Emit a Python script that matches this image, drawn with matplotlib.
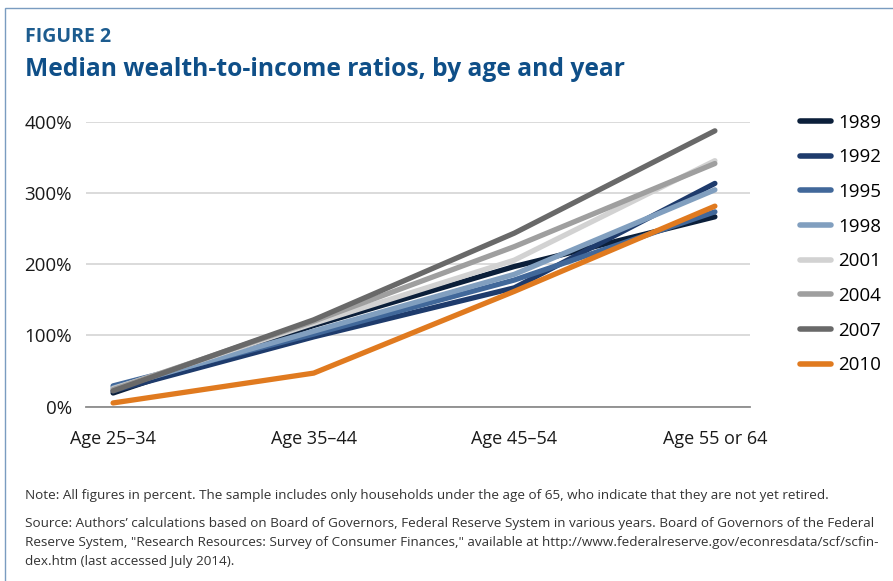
import matplotlib
matplotlib.use("Agg")
import matplotlib.pyplot as plt
from matplotlib.patches import Rectangle

categories = ["Age 25\u201334", "Age 35\u201344", "Age 45\u201354", "Age 55 or 64"]
years = ["1989", "1992", "1995", "1998", "2001", "2004", "2007", "2010"]
v1989 = [19, 114, 197, 267]
v1992 = [22, 98, 167, 314]
v1995 = [29, 102, 178, 274]
v1998 = [26, 106, 186, 305]
v2001 = [25, 117, 206, 346]
v2004 = [24, 120, 225, 342]
v2007 = [22, 122, 244, 388]
v2010 = [5, 47, 162, 282]
series = [v1989, v1992, v1995, v1998, v2001, v2004, v2007, v2010]
colors = ["#0b1f3a", "#1e3b6c", "#41689a", "#819fbf", "#d2d2d2", "#9f9f9f", "#696969", "#e07a1f"]
yticks = [0, 100, 200, 300, 400]
ytick_labels = ["0%", "100%", "200%", "300%", "400%"]

plt.rcParams['font.family'] = ['Open Sans', 'DejaVu Sans']

W, H = 893, 581
fig = plt.figure(figsize=(W / 100, H / 100), dpi=100)

fig.patches.append(Rectangle((5 / W, -0.1), 1.2, 1 - 8 / H + 0.1, transform=fig.transFigure,
                             fill=False, edgecolor="#7a9cc0", linewidth=1.0))

fig.text(25 / W, 1 - 37 / H, "FIGURE 2", color="#1d5c8f", fontsize=14, fontweight="bold",
         va="center", ha="left")
fig.text(25 / W, 1 - 70 / H, "Median wealth-to-income ratios, by age and year", color="#0f4f88",
         fontsize=17.7, fontweight="bold", va="center", ha="left")

ax = fig.add_axes([86 / W, 1 - 406.5 / H, (750 - 86) / W, (406.5 - 122.3) / H])
x = list(range(len(categories)))
handles = []
for yr, vals, c in zip(years, series, colors):
    ln, = ax.plot(x, vals, color=c, linewidth=3.8, solid_capstyle="round",
                  solid_joinstyle="round", clip_on=False, zorder=3)
    handles.append(ln)

ax.set_xlim(-0.135, 3.175)
ax.set_ylim(0, 400)
ax.set_yticks(yticks)
ax.set_yticklabels(ytick_labels)
ax.set_xticks(x)
ax.set_xticklabels(categories)
for s in ["top", "right", "left"]:
    ax.spines[s].set_visible(False)
ax.spines["bottom"].set_color("#8c8c8c")
ax.spines["bottom"].set_linewidth(1.3)
ax.grid(axis="y", color="#d4d4d4", linewidth=1.2, zorder=0)
ax.set_axisbelow(True)
ax.tick_params(axis="both", length=0, colors="#1a1a1a")
ax.tick_params(axis="y", pad=10, labelsize=13.5)
ax.tick_params(axis="x", pad=17, labelsize=13)

leg = fig.legend(handles, years, loc="upper left", bbox_to_anchor=(792 / W, 1 - 106 / H),
                 frameon=False, fontsize=13.5, handlelength=1.7, labelspacing=0.89,
                 handletextpad=0.35, borderaxespad=0)
for lh in leg.get_lines():
    lh.set_linewidth(4)
    lh.set_solid_capstyle("round")

fig.text(25 / W, 1 - 496 / H,
         "Note: All figures in percent. The sample includes only households under the age of 65, who indicate that they are not yet retired.",
         fontsize=9.7, color="#333333", va="center", ha="left")
src = ("Source: Authors\u2019 calculations based on Board of Governors, Federal Reserve System in various years. Board of Governors of the Federal\n"
       "Reserve System, \"Research Resources: Survey of Consumer Finances,\" available at http://www.federalreserve.gov/econresdata/scf/scfin-\n"
       "dex.htm (last accessed July 2014).")
fig.text(25 / W, 1 - 517 / H, src, fontsize=9.7, color="#333333", va="top", ha="left", linespacing=1.58)

fig.savefig("out.png", dpi=100, facecolor="white")
